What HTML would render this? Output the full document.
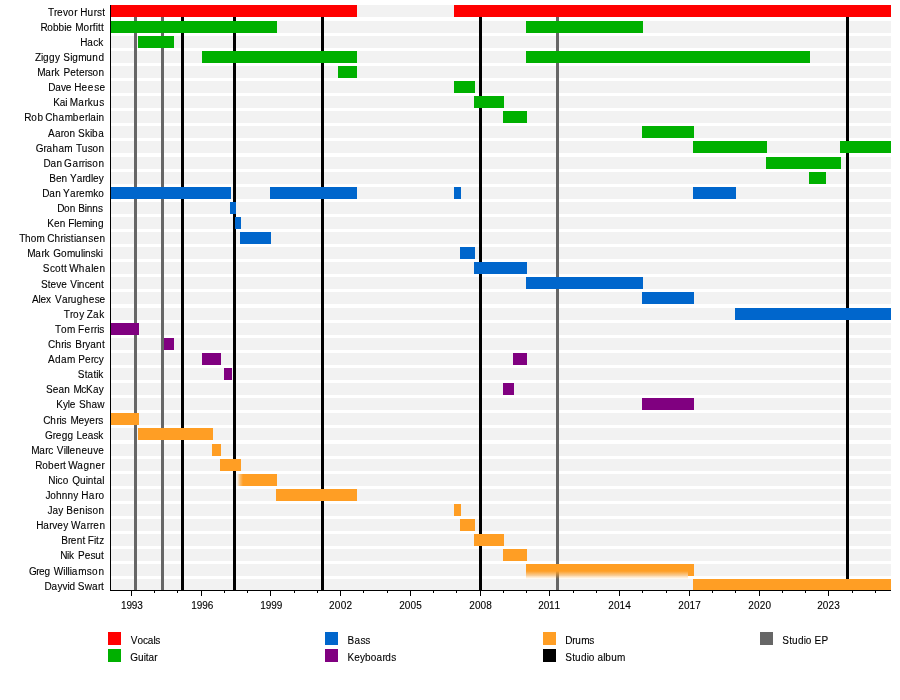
<!DOCTYPE html>
<html lang="en">
<head>
<meta charset="utf-8">
<title>Econoline Crush members timeline</title>
<style>
html,body{margin:0;padding:0;background:#fff;}
body{width:900px;height:700px;overflow:hidden;}
svg{display:block;}
rect{shape-rendering:crispEdges;}
text{font-family:"Liberation Sans",Arial,Helvetica,sans-serif;font-size:10px;fill:#000;stroke:#000;stroke-width:0.1px;white-space:pre;}
</style>
</head>
<body>
<svg width="900" height="700" viewBox="0 0 900 700">
<defs><linearGradient id="fade" x1="0" y1="0" x2="0" y2="1"><stop offset="0" stop-color="#ff9e24" stop-opacity="1"/><stop offset="0.45" stop-color="#ff9e24" stop-opacity="0.55"/><stop offset="1" stop-color="#ff9e24" stop-opacity="0"/></linearGradient><linearGradient id="fadex" x1="0" y1="0" x2="1" y2="0"><stop offset="0" stop-color="#ff9e24" stop-opacity="0"/><stop offset="0.5" stop-color="#ff9e24" stop-opacity="0.6"/><stop offset="1" stop-color="#ff9e24" stop-opacity="1"/></linearGradient></defs>
<rect width="900" height="700" fill="#fff"/>
<g fill="#f2f2f2">
<rect x="111" y="5" width="780" height="12"/>
<rect x="111" y="21" width="780" height="12"/>
<rect x="111" y="36" width="780" height="12"/>
<rect x="111" y="51" width="780" height="12"/>
<rect x="111" y="66" width="780" height="12"/>
<rect x="111" y="81" width="780" height="12"/>
<rect x="111" y="96" width="780" height="12"/>
<rect x="111" y="111" width="780" height="12"/>
<rect x="111" y="126" width="780" height="12"/>
<rect x="111" y="141" width="780" height="12"/>
<rect x="111" y="157" width="780" height="12"/>
<rect x="111" y="172" width="780" height="12"/>
<rect x="111" y="187" width="780" height="12"/>
<rect x="111" y="202" width="780" height="12"/>
<rect x="111" y="217" width="780" height="12"/>
<rect x="111" y="232" width="780" height="12"/>
<rect x="111" y="247" width="780" height="12"/>
<rect x="111" y="262" width="780" height="12"/>
<rect x="111" y="277" width="780" height="12"/>
<rect x="111" y="292" width="780" height="12"/>
<rect x="111" y="308" width="780" height="12"/>
<rect x="111" y="323" width="780" height="12"/>
<rect x="111" y="338" width="780" height="12"/>
<rect x="111" y="353" width="780" height="12"/>
<rect x="111" y="368" width="780" height="12"/>
<rect x="111" y="383" width="780" height="12"/>
<rect x="111" y="398" width="780" height="12"/>
<rect x="111" y="413" width="780" height="12"/>
<rect x="111" y="428" width="780" height="12"/>
<rect x="111" y="444" width="780" height="12"/>
<rect x="111" y="459" width="780" height="12"/>
<rect x="111" y="474" width="780" height="12"/>
<rect x="111" y="489" width="780" height="12"/>
<rect x="111" y="504" width="780" height="12"/>
<rect x="111" y="519" width="780" height="12"/>
<rect x="111" y="534" width="780" height="12"/>
<rect x="111" y="549" width="780" height="12"/>
<rect x="111" y="564" width="780" height="12"/>
<rect x="111" y="579" width="780" height="12"/>
</g>
<g>
<rect x="134" y="5" width="3" height="585" fill="#666666"/>
<rect x="161" y="5" width="3" height="585" fill="#666666"/>
<rect x="181" y="5" width="3" height="585" fill="#000000"/>
<rect x="233" y="5" width="3" height="585" fill="#000000"/>
<rect x="321" y="5" width="3" height="585" fill="#000000"/>
<rect x="479" y="5" width="3" height="585" fill="#000000"/>
<rect x="556" y="5" width="3" height="585" fill="#666666"/>
<rect x="846" y="5" width="3" height="585" fill="#000000"/>
</g>
<g>
<rect x="111" y="5" width="246" height="12" fill="#ff0000"/>
<rect x="454" y="5" width="437" height="12" fill="#ff0000"/>
<rect x="111" y="21" width="166" height="12" fill="#00b000"/>
<rect x="526" y="21" width="117" height="12" fill="#00b000"/>
<rect x="138" y="36" width="36" height="12" fill="#00b000"/>
<rect x="202" y="51" width="155" height="12" fill="#00b000"/>
<rect x="526" y="51" width="284" height="12" fill="#00b000"/>
<rect x="338" y="66" width="19" height="12" fill="#00b000"/>
<rect x="454" y="81" width="21" height="12" fill="#00b000"/>
<rect x="474" y="96" width="30" height="12" fill="#00b000"/>
<rect x="503" y="111" width="24" height="12" fill="#00b000"/>
<rect x="642" y="126" width="52" height="12" fill="#00b000"/>
<rect x="693" y="141" width="74" height="12" fill="#00b000"/>
<rect x="840" y="141" width="51" height="12" fill="#00b000"/>
<rect x="766" y="157" width="75" height="12" fill="#00b000"/>
<rect x="809" y="172" width="17" height="12" fill="#00b000"/>
<rect x="111" y="187" width="120" height="12" fill="#0066cc"/>
<rect x="270" y="187" width="87" height="12" fill="#0066cc"/>
<rect x="454" y="187" width="7" height="12" fill="#0066cc"/>
<rect x="693" y="187" width="43" height="12" fill="#0066cc"/>
<rect x="230" y="202" width="6" height="12" fill="#0066cc"/>
<rect x="235" y="217" width="6" height="12" fill="#0066cc"/>
<rect x="240" y="232" width="31" height="12" fill="#0066cc"/>
<rect x="460" y="247" width="15" height="12" fill="#0066cc"/>
<rect x="474" y="262" width="53" height="12" fill="#0066cc"/>
<rect x="526" y="277" width="117" height="12" fill="#0066cc"/>
<rect x="642" y="292" width="52" height="12" fill="#0066cc"/>
<rect x="735" y="308" width="156" height="12" fill="#0066cc"/>
<rect x="111" y="323" width="28" height="12" fill="#800080"/>
<rect x="164" y="338" width="10" height="12" fill="#800080"/>
<rect x="202" y="353" width="19" height="12" fill="#800080"/>
<rect x="513" y="353" width="14" height="12" fill="#800080"/>
<rect x="224" y="368" width="8" height="12" fill="#800080"/>
<rect x="503" y="383" width="11" height="12" fill="#800080"/>
<rect x="642" y="398" width="52" height="12" fill="#800080"/>
<rect x="111" y="413" width="28" height="12" fill="#ff9e24"/>
<rect x="138" y="428" width="75" height="12" fill="#ff9e24"/>
<rect x="212" y="444" width="9" height="12" fill="#ff9e24"/>
<rect x="220" y="459" width="21" height="12" fill="#ff9e24"/>
<rect x="237" y="474" width="6" height="12" fill="url(#fadex)"/>
<rect x="243" y="474" width="34" height="12" fill="#ff9e24"/>
<rect x="276" y="489" width="81" height="12" fill="#ff9e24"/>
<rect x="454" y="504" width="7" height="12" fill="#ff9e24"/>
<rect x="460" y="519" width="15" height="12" fill="#ff9e24"/>
<rect x="474" y="534" width="30" height="12" fill="#ff9e24"/>
<rect x="503" y="549" width="24" height="12" fill="#ff9e24"/>
<rect x="526" y="564" width="162" height="7" fill="#ff9e24"/>
<rect x="526" y="571" width="162" height="8" fill="url(#fade)"/>
<rect x="688" y="564" width="6" height="12" fill="#ff9e24"/>
<rect x="693" y="579" width="198" height="12" fill="#ff9e24"/>
</g>
<g fill="#000">
<rect x="110" y="5" width="1" height="586"/>
<rect x="110" y="590" width="781" height="1"/>
<rect x="131" y="591" width="1" height="5"/>
<rect x="154" y="591" width="1" height="2"/>
<rect x="177" y="591" width="1" height="2"/>
<rect x="201" y="591" width="1" height="5"/>
<rect x="224" y="591" width="1" height="2"/>
<rect x="247" y="591" width="1" height="2"/>
<rect x="270" y="591" width="1" height="5"/>
<rect x="294" y="591" width="1" height="2"/>
<rect x="317" y="591" width="1" height="2"/>
<rect x="340" y="591" width="1" height="5"/>
<rect x="363" y="591" width="1" height="2"/>
<rect x="387" y="591" width="1" height="2"/>
<rect x="410" y="591" width="1" height="5"/>
<rect x="433" y="591" width="1" height="2"/>
<rect x="456" y="591" width="1" height="2"/>
<rect x="480" y="591" width="1" height="5"/>
<rect x="503" y="591" width="1" height="2"/>
<rect x="526" y="591" width="1" height="2"/>
<rect x="549" y="591" width="1" height="5"/>
<rect x="573" y="591" width="1" height="2"/>
<rect x="596" y="591" width="1" height="2"/>
<rect x="619" y="591" width="1" height="5"/>
<rect x="642" y="591" width="1" height="2"/>
<rect x="666" y="591" width="1" height="2"/>
<rect x="689" y="591" width="1" height="5"/>
<rect x="712" y="591" width="1" height="2"/>
<rect x="735" y="591" width="1" height="2"/>
<rect x="759" y="591" width="1" height="5"/>
<rect x="782" y="591" width="1" height="2"/>
<rect x="805" y="591" width="1" height="2"/>
<rect x="828" y="591" width="1" height="5"/>
<rect x="852" y="591" width="1" height="2"/>
<rect x="875" y="591" width="1" height="2"/>
</g>
<g>
<text x="121.09 126.45 131.81 137.18" y="609">1993</text>
<text x="191.29 196.75 202.21 207.68" y="609">1996</text>
<text x="260.29 265.76 271.24 276.71" y="609">1999</text>
<text x="329.05 334.85 340.64 346.44" y="609">2002</text>
<text x="399.15 404.82 410.49 416.16" y="609">2005</text>
<text x="469.25 474.92 480.6 486.27" y="609">2008</text>
<text x="538.25 543.64 549.03 554.43" y="609">2011</text>
<text x="608.25 613.88 619.5 625.13" y="609">2014</text>
<text x="678.15 683.88 689.61 695.34" y="609">2017</text>
<text x="748.25 753.97 759.7 765.43" y="609">2020</text>
<text x="817.15 822.82 828.5 834.18" y="609">2023</text>
</g>
<g>
<text x="47.91 53.96 56.99 63.04 68.09 74.14 77.47 80.19 87.54 93.84 96.99 102.24" y="15.7">Trevor Hurst</text>
<text x="40.58 47.22 52.91 58.61 64.3 66.2 71.76 75.15 83.42 89.62 92.72 95.83 97.89 100.99" y="30.7">Robbie Morfitt</text>
<text x="80.23 87.27 93.3 98.33" y="45.7">Hack</text>
<text x="35.09 41.09 43.09 49.1 55.11 60.11 63.16 70.21 72.23 78.27 86.33 92.37 98.41" y="60.7">Ziggy Sigmund</text>
<text x="37.23 45.3 51.36 54.39 59.39 63.44 70.24 76.07 78.99 84.82 87.73 92.59 98.42" y="75.7">Mark Peterson</text>
<text x="48.33 55.15 60.99 65.86 71.42 74.25 81.58 87.86 94.15 99.38" y="90.7">Dave Heese</text>
<text x="53.23 59.72 65.28 67.51 69.81 78.25 84.58 87.75 93.03 99.36" y="105.7">Kai Markus</text>
<text x="24.33 31.37 37.41 42.97 45.24 52.4 58.53 64.67 72.85 78.99 85.12 88.19 90.24 96.37 98.42" y="120.7">Rob Chamberlain</text>
<text x="48.07 54.9 60.76 63.69 69.54 75.1 77.98 85.04 90.08 92.09 98.14" y="136.7">Aaron Skiba</text>
<text x="35.66 43.58 46.55 52.49 58.43 64.37 72.7 75.92 81.79 87.66 92.55 98.42" y="151.7">Graham Tuson</text>
<text x="43.43 50.48 56.51 62.08 64.1 72.42 78.66 81.78 84.9 86.98 92.18 98.42" y="166.7">Dan Garrison</text>
<text x="49.23 55.89 61.6 67.16 69.92 76.64 82.4 85.28 91.04 92.96 98.72" y="181.7">Ben Yardley</text>
<text x="42.23 49.28 55.32 60.88 62.99 70.03 76.06 79.08 85.11 93.16 98.19" y="196.7">Dan Yaremko</text>
<text x="57.33 63.98 69.67 75.24 78.22 84.79 86.66 92.29 97.92" y="211.7">Don Binns</text>
<text x="47.13 53.9 59.7 65.26 68.2 74.16 76.15 82.11 90.06 92.05 98.01" y="226.7">Ken Fleming</text>
<text x="19.21 25 30.8 36.59 44.92 47.21 54.4 60.55 63.63 65.68 70.81 73.89 75.94 82.1 88.26 93.39 99.54" y="241.7">Thom Christiansen</text>
<text x="27.23 35.33 41.41 44.44 49.44 53.16 61.1 67.05 74.99 80.94 82.92 84.91 90.86 95.82 100.78" y="256.7">Mark Gomulinski</text>
<text x="42.83 49.9 54.95 61.02 64.05 66.83 69.25 78.65 84.92 91.19 93.28 99.54" y="271.7">Scott Whalen</text>
<text x="40.93 47.67 50.56 56.33 61.15 66.71 70.18 76.92 78.85 84.63 89.44 95.22 100.99" y="287.7">Steve Vincent</text>
<text x="31.92 38.53 40.42 46.09 51.09 54.96 61.9 67.85 70.83 76.78 82.73 88.68 94.63 99.58" y="302.7">Alex Varughese</text>
<text x="63.71 69.9 72.99 79.18 84.18 86.86 93.11 99.35" y="317.7">Troy Zak</text>
<text x="55.11 61.02 66.92 75.25 78.08 84.47 90.85 94.04 97.23 99.36" y="332.7">Tom Ferris</text>
<text x="48.04 55.17 61.28 64.33 66.37 71.37 75.37 82.27 85.23 90.16 96.08 101.99" y="347.7">Chris Bryant</text>
<text x="48.07 55.09 61.1 67.11 75.44 78.22 85.05 90.91 93.84 98.72" y="362.7">Adam Percy</text>
<text x="77.83 84.65 87.58 93.43 96.35 98.3" y="377.7">Statik</text>
<text x="45.95 52.71 58.51 64.31 69.87 73.43 81.21 86.07 92.88 98.72" y="392.7">Sean McKay</text>
<text x="56.28 62.99 67.79 69.7 75.27 79.11 85.81 91.56 97.3" y="407.7">Kyle Shaw</text>
<text x="43.14 50.27 56.39 59.44 61.48 66.48 70.49 78.4 84.33 89.27 95.2 98.16" y="423.7">Chris Meyers</text>
<text x="44.88 52.78 55.74 61.66 67.59 73.15 76.43 82.1 87.76 93.43 98.15" y="438.7">Gregg Leask</text>
<text x="31.13 39.14 45.14 48.14 53.14 56.76 63.67 65.64 67.61 69.58 75.5 81.42 87.33 93.25 98.18" y="453.7">Marc Villeneuve</text>
<text x="35.23 42.16 48.1 54.03 59.97 62.94 65.72 68.26 77.34 83.39 89.44 95.49 101.54" y="468.7">Robert Wagner</text>
<text x="48.13 55.4 57.48 62.68 68.24 72.21 79.98 85.82 87.76 93.6 96.51 102.35" y="483.7">Nico Quintal</text>
<text x="45.58 50.35 56.07 61.8 67.52 73.25 78.25 81.28 88.84 95.32 98.56" y="498.7">Johnny Haro</text>
<text x="47.53 52.42 58.28 63.28 66.19 73.24 79.28 85.32 87.34 92.38 98.42" y="513.7">Jay Benison</text>
<text x="36.28 43.25 49.23 52.22 57.2 63.18 68.18 71.04 80.54 86.87 90.04 93.21 99.54" y="528.7">Harvey Warren</text>
<text x="61.23 67.97 70.85 76.63 82.4 85.18 87.63 93.94 96.04 99.2" y="543.7">Brent Fitz</text>
<text x="60.28 67.08 69.02 74.02 78 84.71 90.45 95.25 100.99" y="558.7">Nik Pesut</text>
<text x="28.95 36.24 38.97 44.44 50 53.81 63.37 65.49 67.62 69.74 71.87 78.24 86.74 92.05 98.42" y="574.7">Greg Williamson</text>
<text x="44.43 51.48 57.52 62.56 67.59 69.61 75.17 77.8 84.86 91.92 97.97 100.99" y="589.7">Dayvid Swart</text>
</g>
<g>
<rect x="108" y="632" width="13" height="13" fill="#ff0000"/>
<text x="130.81 137.42 143.08 147.81 153.47 155.36" y="643.7">Vocals</text>
<rect x="108" y="649" width="13" height="13" fill="#00b000"/>
<text x="130.35 137.99 143.72 145.64 148.5 154.24" y="660.7">Guitar</text>
<rect x="325" y="632" width="13" height="13" fill="#0066cc"/>
<text x="347.43 354.4 360.38 365.36" y="643.7">Bass</text>
<rect x="325" y="649" width="13" height="13" fill="#800080"/>
<text x="347.43 354.23 360.06 364.92 370.75 376.58 382.42 385.33 391.16" y="660.7">Keyboards</text>
<rect x="543" y="632" width="13" height="13" fill="#ff9e24"/>
<text x="565.23 572.24 575.24 581.25 589.26" y="643.7">Drums</text>
<rect x="543" y="649" width="13" height="13" fill="#000000"/>
<text x="565.3 572.13 575.06 580.91 586.77 588.72 594.58 597.51 603.36 605.32 611.17 617.03" y="660.7">Studio album</text>
<rect x="760" y="632" width="13" height="13" fill="#666666"/>
<text x="782.3 789.15 792.09 797.96 803.83 805.79 811.67 814.6 821.46" y="643.7">Studio EP</text>
</g>
</svg>
</body>
</html>
